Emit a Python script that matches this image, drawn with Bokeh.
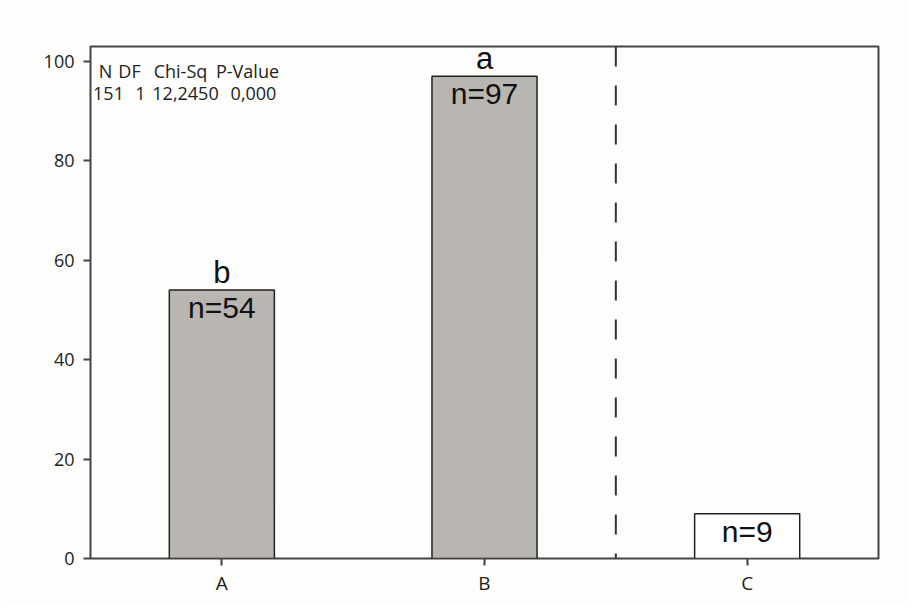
from bokeh.plotting import figure
from bokeh.models import ColumnDataSource, Span, Label, FactorRange, Range1d
from bokeh.core.properties import value
from bokeh.embed import file_html
from bokeh.resources import INLINE

categories = ["A", "B", "C"]
counts = [54, 97, 9]
letters = ["b", "a", ""]
n_labels = ["n=54", "n=97", "n=9"]
fills = ["#b9b5b1", "#b9b5b1", "#ffffff"]
stats_header = ["N", "DF", "Chi-Sq", "P-Value"]
stats_values = ["151", "1", "12,2450", "0,000"]
y_ticks = [0, 20, 40, 60, 80, 100]

src = ColumnDataSource(dict(cat=categories, cnt=counts, let=letters, nl=n_labels, fill=fills))

bg = "#fdfdfb"
p = figure(width=908, height=603, x_range=FactorRange(*categories, range_padding=0),
           y_range=Range1d(0, 103), output_backend="svg", toolbar_location=None,
           min_border_left=90, min_border_top=46, min_border_right=30, min_border_bottom=45,
           background_fill_color=bg, border_fill_color=bg)
p.xgrid.visible = False
p.ygrid.visible = False
p.outline_line_color = "#444444"
p.outline_line_width = 2

p.vbar(x="cat", top="cnt", width=0.4, source=src, fill_color="fill",
       line_color="#222222", line_width=1.5)

p.text(x="cat", y="cnt", text="let", source=src, text_align="center",
       text_baseline="bottom", y_offset=0, text_font=value("Liberation Sans"),
       text_font_size="31px", text_color="#111111")
p.text(x="cat", y="cnt", text="nl", source=src, text_align="center",
       text_baseline="top", y_offset=1, text_font=value("Liberation Sans"),
       text_font_size="30px", text_color="#111111")

p.add_layout(Span(location=2, dimension="height", line_color="#333333",
                  line_width=2, line_dash="20 19"))

# stats table (screen offsets relative to the plot frame)
head_x = [15, 39, 90, 157]
val_x = [18, 50, 95, 163]
for txt, xx in zip(stats_header, head_x):
    p.add_layout(Label(x=xx, y=488, x_units="screen", y_units="screen", text=txt,
                       text_font="Open Sans", text_font_size="18px", text_align="center",
                       text_baseline="middle", text_color="#222222"))
for txt, xx in zip(stats_values, val_x):
    p.add_layout(Label(x=xx, y=465, x_units="screen", y_units="screen", text=txt,
                       text_font="Open Sans", text_font_size="18px", text_align="center",
                       text_baseline="middle", text_color="#222222"))

for ax in (p.xaxis[0], p.yaxis[0]):
    ax.axis_line_color = None
    ax.major_tick_line_color = "#444444"
    ax.major_tick_line_width = 2
    ax.major_tick_out = 7
    ax.major_tick_in = 0
    ax.minor_tick_line_color = None
    ax.major_label_text_font = "Open Sans"
    ax.major_label_text_color = "#222222"

p.yaxis.ticker = y_ticks
p.yaxis.major_label_standoff = 9
p.xaxis.major_label_standoff = 4
p.yaxis.major_label_text_font_size = "18px"
p.xaxis.major_label_text_font_size = "19px"

open("out.html", "w").write(file_html(p, INLINE))
